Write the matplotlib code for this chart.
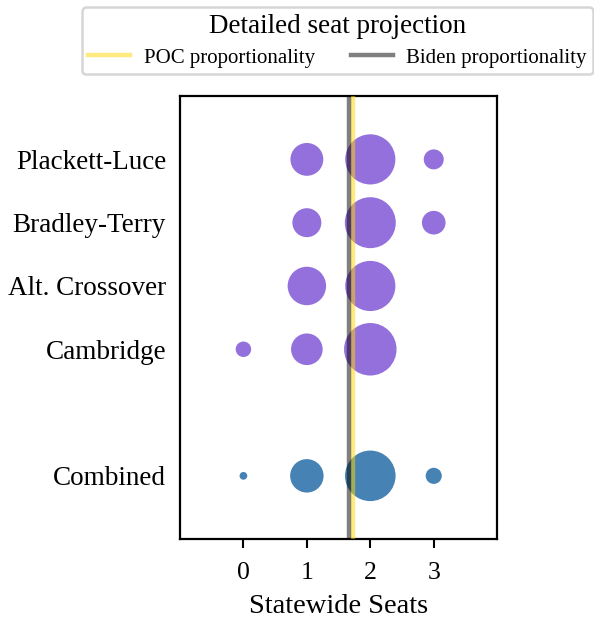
import numpy as np
import matplotlib
matplotlib.use("Agg")
import matplotlib.pyplot as plt

plt.rcParams['font.family'] = ['Liberation Serif', 'DejaVu Serif']

# share of simulations by number of seats won (0..3)
seats = [0, 1, 2, 3]
methods = ['Plackett-Luce', 'Bradley-Terry', 'Alt. Crossover', 'Cambridge']
method_share = [
    [0.00, 0.27, 0.63, 0.10],
    [0.00, 0.21, 0.65, 0.14],
    [0.00, 0.37, 0.63, 0.00],
    [0.06, 0.25, 0.69, 0.00],
]
combined_share = [0.015, 0.28, 0.64, 0.065]
method_rows = [5, 4, 3, 2]
combined_row = 0

poc_prop = 1.73
biden_prop = 1.66

scale = 2070  # marker area per unit share

fig = plt.figure(figsize=(5.94, 6.24), dpi=100)
ax = fig.add_axes([0.303, 0.136, 0.534, 0.71])

for row, share in zip(method_rows, method_share):
    share = np.array(share)
    keep = share > 0
    ax.scatter(np.array(seats)[keep], [row] * keep.sum(), s=share[keep] * scale,
               color='mediumpurple', linewidths=0, zorder=2)

share = np.array(combined_share)
ax.scatter(seats, [combined_row] * len(seats), s=share * scale,
           color='steelblue', linewidths=0, zorder=2)

ax.axvline(poc_prop, color='gold', alpha=0.5, lw=3.2, zorder=3,
           label='POC proportionality')
ax.axvline(biden_prop, color='black', alpha=0.5, lw=3.2, zorder=3,
           label='Biden proportionality')

ax.set_xlim(-1, 4)
ax.set_ylim(-1, 6)
ax.set_xticks(seats)
ax.set_xticklabels([str(s) for s in seats], fontsize=18.5)
ax.set_yticks(method_rows + [combined_row])
ax.set_yticklabels(methods + ['Combined'], fontsize=19.5)
ax.tick_params(axis='x', length=6.5, width=1.5, pad=10)
ax.tick_params(axis='y', length=0, pad=10)
for sp in ax.spines.values():
    sp.set_linewidth(1.6)
ax.set_xlabel('Statewide Seats', fontsize=20.5, labelpad=7)

leg = ax.legend(loc='lower center', bbox_to_anchor=(0.497, 1.05), ncol=2,
                title='Detailed seat projection', fontsize=15,
                title_fontsize=19.5, frameon=True, handlelength=2.0,
                handletextpad=0.65, columnspacing=1.75, borderpad=0.3,
                labelspacing=0.45, borderaxespad=0)
leg.get_frame().set_edgecolor('#cccccc')
leg.get_frame().set_linewidth(1.8)

fig.savefig('out.png', dpi=100)
